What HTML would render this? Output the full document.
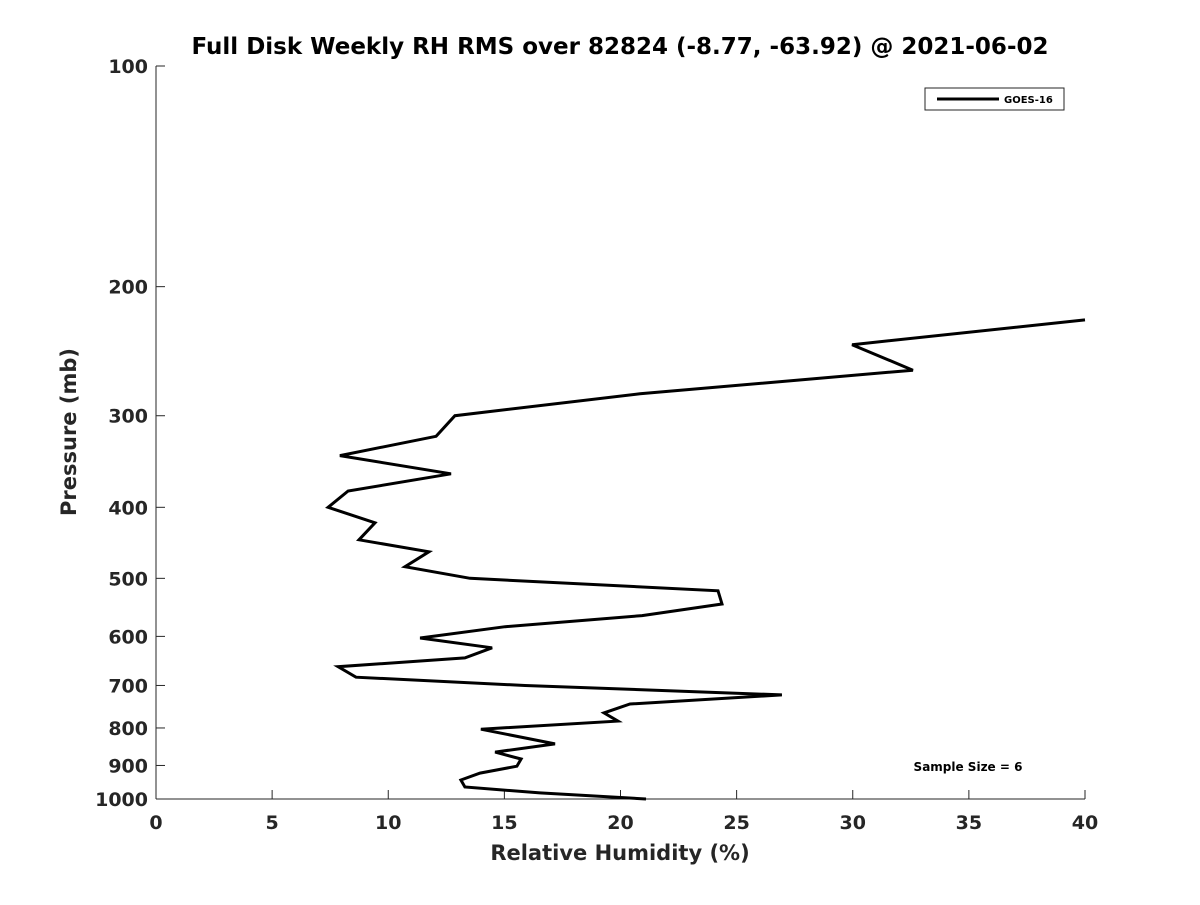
<!DOCTYPE html>
<html><head><meta charset="utf-8"><style>
body{margin:0;background:#fff;width:1200px;height:900px;overflow:hidden}
svg text{font-family:"DejaVu Sans","Liberation Sans",sans-serif;font-weight:bold;fill:#262626}
</style></head><body>
<svg id="chart" width="1200" height="900">
<text x="620" y="54" text-anchor="middle" font-size="23" style="fill:#000">Full Disk Weekly RH RMS over 82824 (-8.77, -63.92) @ 2021-06-02</text>
<g id="axes"></g>
<text x="620" y="860" text-anchor="middle" font-size="21">Relative Humidity (%)</text>
<text transform="translate(76,432) rotate(-90)" text-anchor="middle" font-size="21">Pressure (mb)</text>
<g>
<rect x="925" y="88" width="139" height="22" fill="#fff" stroke="#262626" stroke-width="1"/>
<line x1="937" y1="99" x2="999" y2="99" stroke="#000" stroke-width="3"/>
<text x="1004" y="103" font-size="10" style="fill:#000">GOES-16</text>
</g>
<text x="968" y="771" text-anchor="middle" font-size="12" style="fill:#000">Sample Size = 6</text>
</svg>
<script>
const rhValues=[40.0,29.97,32.59,20.84,12.87,12.06,7.92,12.70,8.27,7.41,9.43,8.74,11.75,10.72,13.52,24.20,24.37,20.93,15.03,11.37,14.47,13.30,7.84,8.61,15.89,26.95,20.41,19.29,19.89,13.99,17.18,14.60,15.72,15.54,13.95,13.13,13.30,16.53,21.10];
const pressures=[222,240,260,280,300,320,340,360,380,400,420,443,460,482,500,520,542,562,582,603,622,642,660,682,700,721,742,763,783,803,841,863,882,902,922,942,963,981,1000];
const xTicks=[0,5,10,15,20,25,30,35,40];
const yTicks=[100,200,300,400,500,600,700,800,900,1000];
const X0=156,X1=1085,Y0=66,Y1=799;
const xS=v=>X0+(v-0)/40*(X1-X0);
const yS=p=>Y0+Math.log10(p/100)*(Y1-Y0);
const NS='http://www.w3.org/2000/svg';
const svg=document.getElementById('chart');
const axes=document.getElementById('axes');
function mk(t,a){const e=document.createElementNS(NS,t);for(const k in a)e.setAttribute(k,a[k]);return e;}
const xa=mk('line',{x1:X0,y1:Y1,x2:X1,y2:Y1,stroke:'#262626','stroke-width':1});


axes.appendChild(xa);
const ya=mk('line',{x1:X0,y1:Y0,x2:X0,y2:Y1,stroke:'#262626','stroke-width':1});


axes.appendChild(ya);
xTicks.forEach(v=>{const x=xS(v);
 const t=mk('line',{x1:x,y1:Y1,x2:x,y2:Y1-9,stroke:'#262626'});
 
 
 axes.appendChild(t);
 const l=mk('text',{x:x,y:Y1+30,'text-anchor':'middle','font-size':19});l.textContent=v;
 
 
 axes.appendChild(l);});
yTicks.forEach(p=>{const y=yS(p);
 const t=mk('line',{x1:X0,y1:y,x2:X0+9,y2:y,stroke:'#262626'});
 
 
 axes.appendChild(t);
 const l=mk('text',{x:X0-8,y:y+7,'text-anchor':'end','font-size':19});l.textContent=p;
 
 
 axes.appendChild(l);});
const pts=rhValues.map((v,i)=>xS(Math.min(v,40)).toFixed(1)+','+yS(pressures[i]).toFixed(1)).join(' ');
const line=mk('polyline',{points:pts,fill:'none',stroke:'#000','stroke-width':3,'stroke-linejoin':'miter'});


svg.appendChild(line);
</script>
</body></html>
